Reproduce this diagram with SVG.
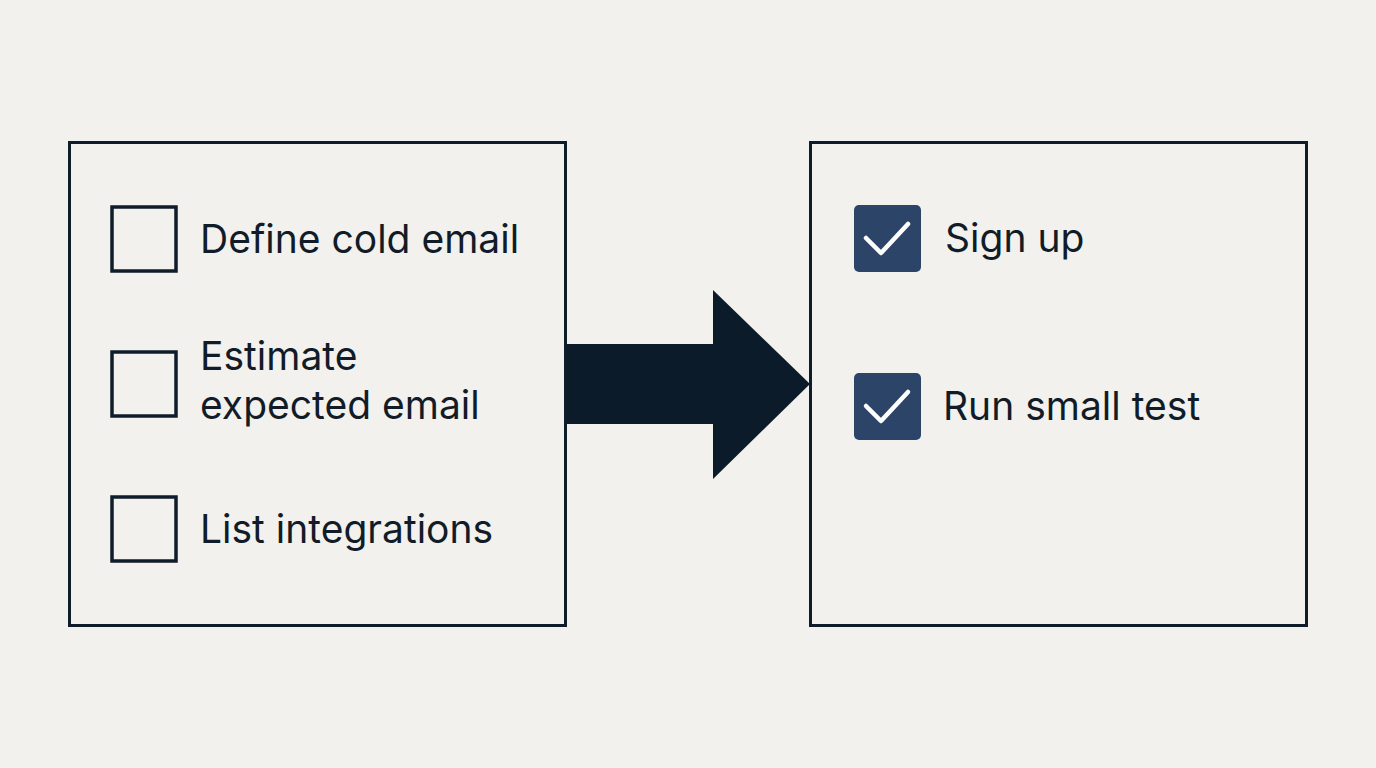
<svg xmlns="http://www.w3.org/2000/svg" width="1376" height="768" viewBox="0 0 1376 768">
<style>
.panel{fill:none;stroke:#0f1d2b;stroke-width:3}
.box{fill:none;stroke:#0f1d2b;stroke-width:3.5}
.chk{fill:#2c4468}
.tick{fill:none;stroke:#ffffff;stroke-width:4.5;stroke-linecap:round;stroke-linejoin:round}
.lbl{font-family:Inter,"Liberation Sans",sans-serif;font-size:39px;fill:#111c28}
</style>
<rect width="1376" height="768" fill="#f2f1ed"/>
<g id="left-panel">
<rect class="panel" x="69.5" y="142.5" width="496" height="483"/>
</g>
<g id="item-define">
<rect class="box" x="112" y="207" width="64" height="64"/>
<text class="lbl" x="200" y="253">Define cold email</text>
</g>
<g id="item-estimate">
<rect class="box" x="112" y="352" width="64" height="64"/>
<text class="lbl" x="200" y="370">Estimate</text>
<text class="lbl" x="200" y="419">expected email</text>
</g>
<g id="item-list">
<rect class="box" x="112" y="497" width="64" height="64"/>
<text class="lbl" x="200" y="543">List integrations</text>
</g>
<g id="right-panel">
<rect class="panel" x="810.5" y="142.5" width="496" height="483"/>
</g>
<g id="item-signup">
<rect class="chk" x="854" y="205" width="67" height="67" rx="5"/>
<polyline class="tick" points="866,238 881,253 908,224"/>
<text class="lbl" x="945" y="252">Sign up</text>
</g>
<g id="item-test">
<rect class="chk" x="854" y="373" width="67" height="67" rx="5"/>
<polyline class="tick" points="866,406 881,421 908,392"/>
<text class="lbl" x="943" y="420">Run small test</text>
</g>
<g id="connectors">
<polygon fill="#0c1b2a" points="566,344 713,344 713,290 810,384 713,479 713,424 566,424"/>
</g>
</svg>
